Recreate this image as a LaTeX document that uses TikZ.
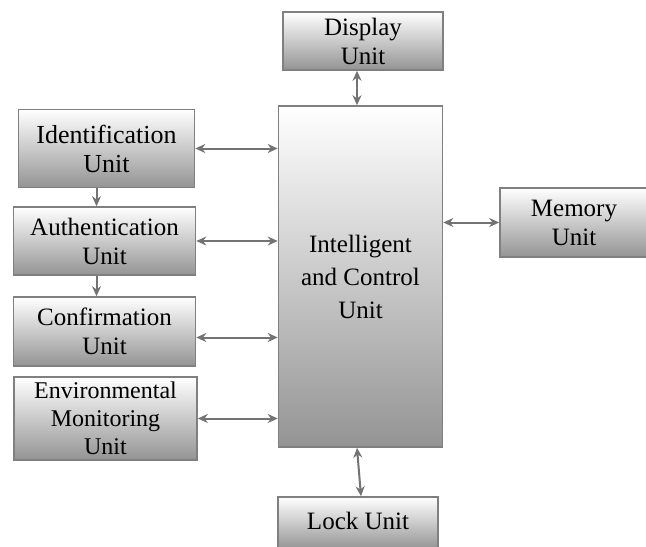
\documentclass[tikz,border=0pt]{standalone}
\usepackage{fontspec}
\setmainfont{Liberation Serif}
\usepackage{tikz}
\usetikzlibrary{arrows.meta, calc}

\begin{document}
\begin{tikzpicture}[
	x=0.5pt, y=-0.5pt,
	unit/.style={rectangle,draw=black!50,line width=0.8pt,top color=white,bottom color=black!42,
		align=center,font=\fontsize{12.5}{14.5}\selectfont,text=black,inner sep=0pt},
	link/.style={{Stealth[length=5pt,width=4.5pt]}-{Stealth[length=5pt,width=4.5pt]},draw=black!55,line width=1pt},
	down/.style={-{Stealth[length=5pt,width=4.5pt]},draw=black!55,line width=1pt}
]
\useasboundingbox (0,0) rectangle (646,546);

% Central unit
\node[unit, minimum width=82pt, minimum height=170.5pt, font=\fontsize{12.5}{16.5}\selectfont] (ctrl) at (360.5,276.5) {Intelligent\\and Control\\Unit};

% Top and bottom
\node[unit, minimum width=80pt, minimum height=29pt] (display) at (363,41) {Display\\Unit};
\node[unit, minimum width=80pt, minimum height=26pt] (lock) at (358,523) {\raisebox{2.5pt}{Lock Unit}};

% Left column
\node[unit, minimum width=88pt, minimum height=39pt, font=\fontsize{13}{14.5}\selectfont] (ident) at (106.5,148.5) {Identification\\Unit};
\node[unit, minimum width=91pt, minimum height=34pt] (auth) at (104.5,241) {Authentication\\Unit};
\node[unit, minimum width=91pt, minimum height=34.5pt] (conf) at (104.5,331.5) {Confirmation\\Unit};
\node[unit, minimum width=91.5pt, minimum height=41.5pt, font=\fontsize{12}{14}\selectfont] (env) at (105.5,418.5) {Environmental\\Monitoring\\Unit};

% Right
\node[unit, minimum width=74pt, minimum height=34.5pt] (mem) at (574,222.5) {Memory\\Unit};

% Connections
\draw[link] (ident.east) -- (ident.east -| ctrl.west);
\draw[link] (auth.east) -- (auth.east -| ctrl.west);
\draw[link] ([yshift=-3pt]conf.east) -- ([yshift=-3pt]conf.east -| ctrl.west);
\draw[link] (env.east) -- (env.east -| ctrl.west);
\draw[link] (ctrl.east |- mem.west) -- (mem.west);
\draw[link] ([xshift=-3pt]display.south) -- ([xshift=-1.75pt]ctrl.north);
\draw[link] ([xshift=-1.75pt]ctrl.south) -- ([xshift=1.5pt]lock.north);

\draw[down] ([xshift=-5pt]ident.south) -- ([xshift=-5pt]ident.south |- auth.north);
\draw[down] ([xshift=-4pt]auth.south) -- ([xshift=-4pt]auth.south |- conf.north);

\end{tikzpicture}
\end{document}
